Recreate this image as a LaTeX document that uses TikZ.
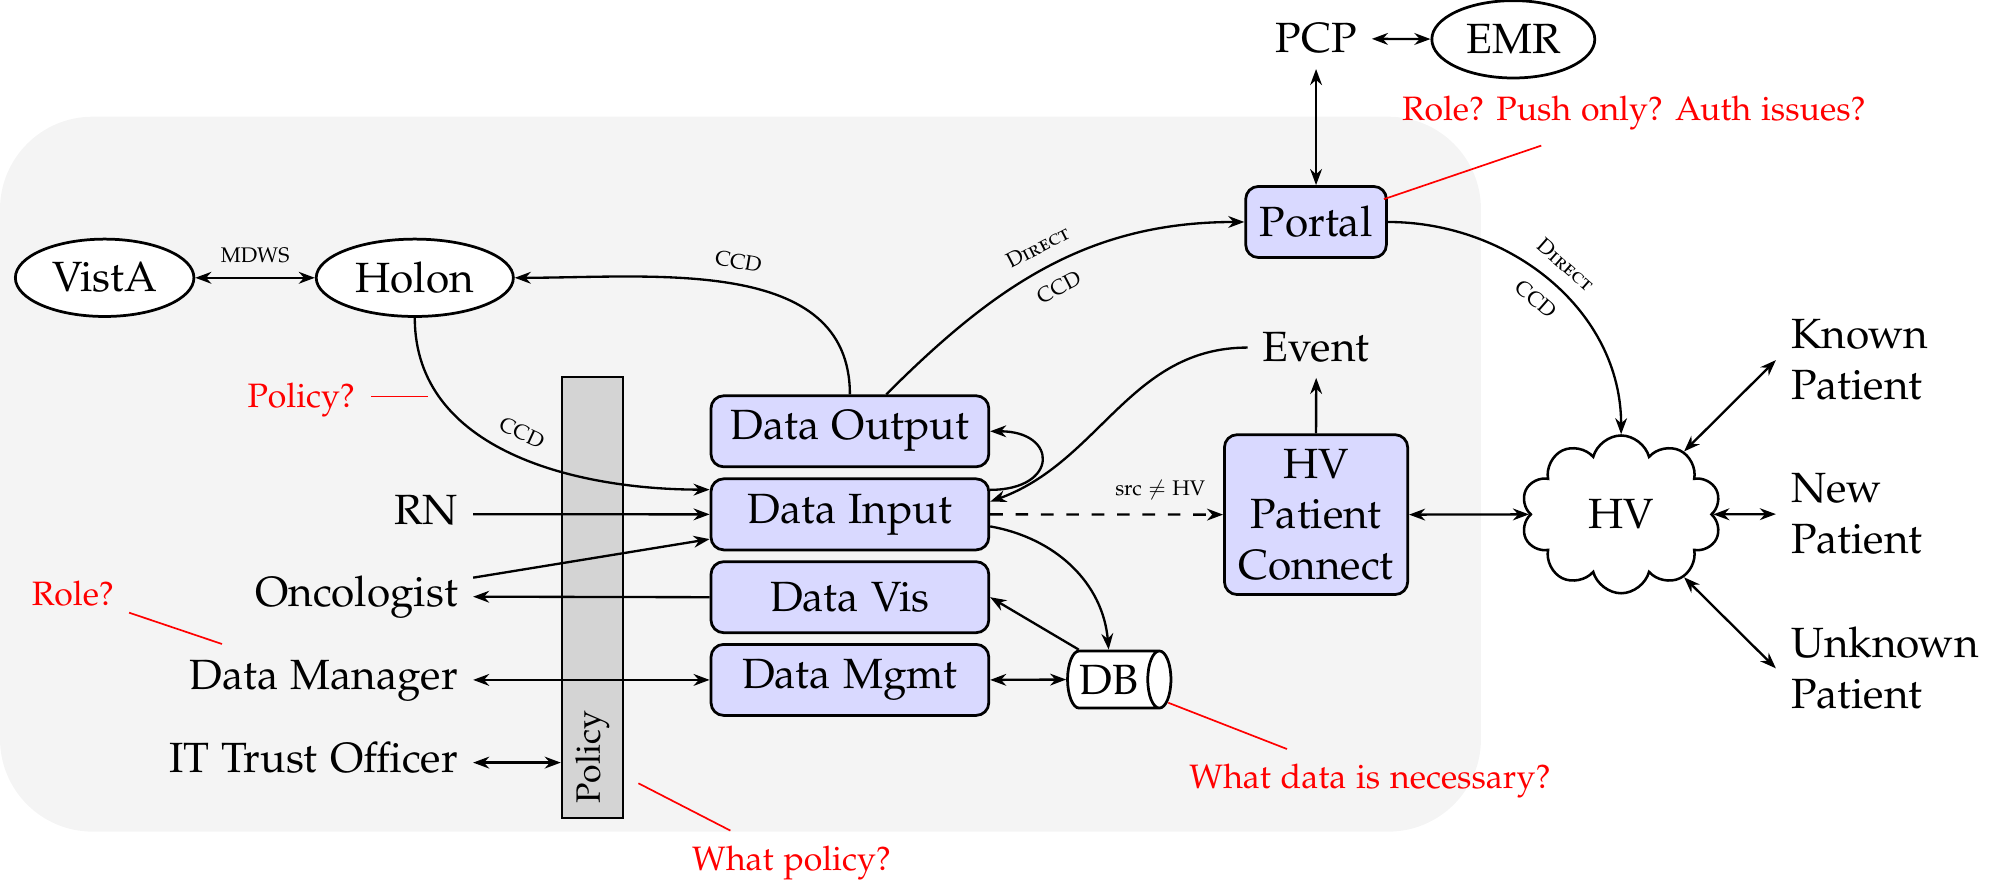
\documentclass[tikz,border=0pt]{standalone}
\usepackage[T1]{fontenc}
\usepackage[sc]{mathpazo}
\usetikzlibrary{arrows.meta,shapes.geometric,shapes.symbols}
\definecolor{bggray}{gray}{0.957}
\definecolor{bargray}{gray}{0.83}
\definecolor{boxblue}{RGB}{217,217,255}
\begin{document}
\begin{tikzpicture}[x=0.3pt,y=0.3pt,line width=0.55pt,
  >={Stealth[length=3.8pt,width=2.8pt]},
  box/.style={draw,line width=0.65pt,fill=boxblue,rounded corners=3pt,minimum width=65.7pt,minimum height=16.8pt,inner sep=3.33pt},
  ell/.style={draw,line width=0.65pt,fill=white,ellipse,inner sep=2.5pt,minimum height=18.3pt},
  lbl/.style={font=\tiny},
  note/.style={text=red,font=\footnotesize},
  pointer/.style={red,line width=0.4pt}]
\useasboundingbox (0,0) rectangle (1568,-704.7);
% background
\fill[bggray,rounded corners=21.9pt] (0,-92) rectangle (1167.5,-655.6);
% policy bar
\node[draw,line width=0.55pt,fill=bargray,minimum width=14.4pt,minimum height=104.4pt,inner sep=0pt] (policy) at (467,-471) {};
\node[rotate=90,font=\footnotesize] (policytxt) at (467,-597) {Policy};
% nodes
\node[ell] (vista) at (82.5,-219) {VistA};
\node[ell] (holon) at (327,-219) {Holon};
\node (pcp) at (1037.5,-30.5) {PCP};
\node[ell] (emr) at (1193,-31) {EMR};
\node[box,minimum width=0pt] (portal) at (1037.5,-175) {Portal};
\node[box] (dataout) at (670,-340) {Data Output};
\node[box] (datain) at (670,-405.5) {Data Input};
\node[box] (datavis) at (670,-470.8) {Data Vis};
\node[box] (datamgmt) at (670,-536) {Data Mgmt};
\node[box,minimum width=0pt,align=center] (hvpc) at (1037.5,-405.7) {HV\\Patient\\Connect};
\node (event) at (1037.6,-274) {Event};
\node[cylinder,draw,line width=0.65pt,fill=white,aspect=0.5,minimum width=13.5pt,minimum height=24pt,inner sep=2pt] (db) at (874,-535.7) {DB};
\node[cloud,cloud puffs=10,draw,line width=0.6pt,fill=white,minimum width=47.4pt,minimum height=32.6pt] (hv) at (1278,-405.5) {HV};
\node[anchor=west,align=left] (known) at (1400,-283.9) {Known\\Patient};
\node[anchor=west,align=left] (new) at (1400,-405.3) {New\\Patient};
\node[anchor=west,align=left] (unknown) at (1400,-526.9) {Unknown\\Patient};
\node[anchor=mid east] (rn) at (373,-405.4) {RN};
\node[anchor=mid east] (onc) at (373,-470.4) {Oncologist};
\node[anchor=mid east] (dm) at (373,-536) {Data Manager};
\node[anchor=mid east] (ito) at (373,-601.2) {IT Trust Officer};
% notes
\node[note] (polq) at (237.5,-315) {Policy?};
\node[note] (roleq) at (57.5,-467.6) {Role?};
\node[note] (whatpol) at (624,-680.5) {What policy?};
\node[note] (whatdata) at (1080,-615.5) {What data is necessary?};
\node[note] (portalq) at (1288,-89) {Role? Push only? Auth issues?};
\coordinate (pa1) at (292.6,-312.7); \coordinate (pa2) at (337.2,-312.7);
\coordinate (pb1) at (101.8,-483); \coordinate (pb2) at (175,-507.7);
\coordinate (pc1) at (503.3,-617.5); \coordinate (pc2) at (575.8,-654.8);
\coordinate (pd1) at (921,-554); \coordinate (pd2) at (1014.6,-590.5);
\coordinate (pe1) at (1091,-157); \coordinate (pe2) at (1215,-114.8);
\draw[pointer] (pa1) -- (pa2);
\draw[pointer] (pb1) -- (pb2);
\draw[pointer] (pc1) -- (pc2);
\draw[pointer] (pd1) -- (pd2);
\draw[pointer] (pe1) -- (pe2);
% connectors
\draw[<->] (vista) -- node[above,lbl] {MDWS} (holon);
\draw[<->] (pcp) -- (emr);
\draw[<->] (pcp) -- (portal);
\draw[<-] (holon.east) to[out=0,in=90] node[pos=0.5,above,sloped,lbl] {CCD} (dataout.north);
\draw[->] ([xshift=8.6pt]dataout.north) to[out=45,in=180]
  node[pos=0.5,sloped,above,lbl] {\textsc{Direct}}
  node[pos=0.5,sloped,below,lbl] {CCD} (portal.west);
\draw[->] (portal.east) to[out=0,in=90]
  node[pos=0.5,sloped,above,lbl] {\textsc{Direct}}
  node[pos=0.5,sloped,below,lbl] {CCD} (hv.north);
\draw[->] (holon.south) to[out=-90,in=180] node[pos=0.5,sloped,above,lbl] {CCD} ([yshift=5.85pt]datain.west);
\draw[->] (rn.mid east) -- (datain.west);
\draw[->] ([yshift=4.5pt]onc.mid east) -- ([yshift=-5.85pt]datain.west);
\draw[->] (datavis.west) -- (onc.mid east);
\draw[<->] (dm.mid east) -- (datamgmt.west);
\draw[<->] (ito.mid east) -- (ito.mid east -| policy.west);
\draw[->] ([yshift=5.8pt]datain.east) to[out=0,in=0,looseness=3] (dataout.east);
\draw[->] (event.west) to[out=180,in=20] ([yshift=3pt]datain.east);
\draw[->,dashed] (datain.east) -- node[pos=0.73,above,lbl] {src $\neq$ HV} (hvpc.west);
\draw[->] ([yshift=-2.85pt]datain.east) to[out=-10,in=95] (db.north);
\draw[->] (db.north west) -- (datavis.east);
\draw[<->] (datamgmt.east) -- (db.west);
\draw[->] (hvpc.north) -- (event.south);
\draw[<->] (hvpc.east) -- (hv.west);
\draw[<->] (hv.45) -- (known.west);
\draw[<->] (hv.east) -- (new.west);
\draw[<->] (hv.-45) -- (unknown.west);
\end{tikzpicture}
\end{document}
